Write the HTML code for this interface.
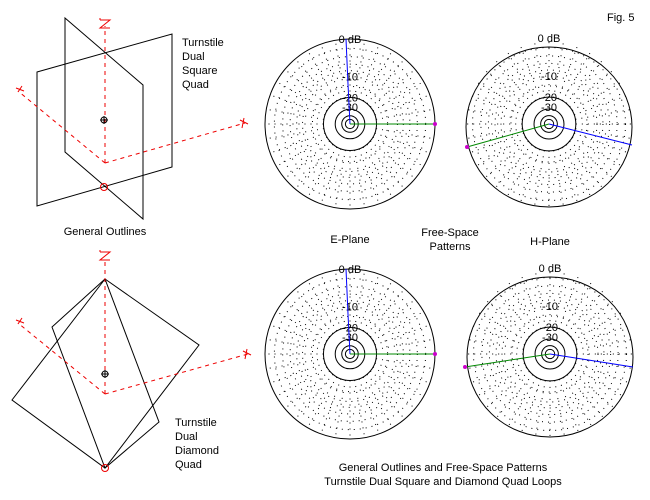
<!DOCTYPE html>
<html><head><meta charset="utf-8"><style>
body{margin:0;background:#fff}
svg{display:block}
text{font-family:"Liberation Sans",sans-serif;font-size:11px;fill:#000}
</style></head><body>
<svg id="s" width="650" height="500" viewBox="0 0 650 500">
<rect width="650" height="500" fill="#fff"/>
<g id="grids"></g>
<g fill="none" stroke="#000" stroke-width="1">
<polygon points="65,18 143,85 143,219 65,152"/>
<polygon points="37,72 172,34 172,167 37,206"/>
</g>
<g fill="none" stroke="#e00" stroke-width="1" stroke-dasharray="4,4">
<line x1="105" y1="163" x2="105" y2="26"/>
<line x1="105" y1="163" x2="18" y2="91"/>
<line x1="105" y1="163" x2="245" y2="123"/>
</g>
<g stroke="#e00" fill="none"><path d="M100,20 h10 l-10,8 h10 M100,20 v-2"/><path d="M240,120 l8,4 M244,118 l-2,10"/><path d="M16,88 l8,3 M18,92 l4,-6"/>
<circle cx="104" cy="187" r="3.5"/></g>
<g stroke="#000" fill="none"><circle cx="104" cy="120" r="3"/><path d="M100,120h8M104,116v8"/></g>
<text x="182" y="46">Turnstile</text><text x="182" y="60">Dual</text><text x="182" y="74">Square</text><text x="182" y="88">Quad</text>
<text x="105" y="235" text-anchor="middle">General Outlines</text>
<g fill="none" stroke="#000" stroke-width="1">
<polygon points="105,279 199,345 105,468 12,400"/>
<polygon points="105,279 52,327 105,468 159,422"/>
</g>
<g fill="none" stroke="#e00" stroke-width="1" stroke-dasharray="4,4">
<line x1="105" y1="394" x2="105" y2="258"/>
<line x1="105" y1="394" x2="18" y2="323"/>
<line x1="105" y1="394" x2="248" y2="354"/>
</g>
<g stroke="#e00" fill="none"><path d="M100,252 h10 l-10,8 h10 M100,252 v-2"/><path d="M243,351 l8,4 M247,349 l-2,10"/><path d="M16,320 l8,3 M18,324 l4,-6"/>
<circle cx="105" cy="468" r="3.5"/></g>
<g stroke="#000" fill="none"><circle cx="105" cy="374" r="3"/><path d="M101,374h8M105,370v8"/></g>
<text x="175" y="426">Turnstile</text><text x="175" y="440">Dual</text><text x="175" y="454">Diamond</text><text x="175" y="468">Quad</text>
<text x="607" y="21">Fig. 5</text>
<text x="350" y="243" text-anchor="middle">E-Plane</text>
<text x="450" y="236" text-anchor="middle">Free-Space</text>
<text x="450" y="250" text-anchor="middle">Patterns</text>
<text x="550" y="245" text-anchor="middle">H-Plane</text>
<text x="443" y="471" text-anchor="middle">General Outlines and Free-Space Patterns</text>
<text x="443" y="485" text-anchor="middle">Turnstile Dual Square and Diamond Quad Loops</text>
<g id="plots"></g>
</svg>
<script>
var NS="http://www.w3.org/2000/svg";
function el(p,n,a,t){var e=document.createElementNS(NS,n);for(var k in a)e.setAttribute(k,a[k]);if(t)e.textContent=t;p.appendChild(e);return e;}
var g=document.getElementById('grids');
function grid(cx,cy,R){
  function r(db){return R*Math.pow(0.89,-db/2);}
  [-2,-4,-6,-8,-10,-14].forEach(function(d){el(g,'circle',{cx:cx,cy:cy,r:r(d),fill:'none',stroke:'#000','stroke-dasharray':'1,5'});});
  [-20,-30,-40,-50].forEach(function(d){el(g,'circle',{cx:cx,cy:cy,r:r(d),fill:'none',stroke:'#000'});});
  for(var a=0;a<360;a+=10){var t=a*Math.PI/180,r1=r(-20),r2=R;
    el(g,'line',{x1:cx+r1*Math.cos(t),y1:cy+r1*Math.sin(t),x2:cx+r2*Math.cos(t),y2:cy+r2*Math.sin(t),stroke:'#000','stroke-dasharray':'1,5'});}
  el(g,'text',{x:cx,y:cy-R+4,'text-anchor':'middle'},'0 dB');
  el(g,'text',{x:cx,y:cy-r(-10)+4,'text-anchor':'middle'},'-10');
  el(g,'text',{x:cx,y:cy-r(-20)+4,'text-anchor':'middle'},'-20');
  el(g,'text',{x:cx,y:cy-r(-30)+2,'text-anchor':'middle'},'-30');
}
var p=document.getElementById('plots');
function ep(cx,cy){grid(cx,cy,85);
  el(p,'circle',{cx:cx,cy:cy,r:85,fill:'none',stroke:'#000'});
  el(p,'polyline',{points:cx+','+cy+' '+(cx-2)+','+(cy-40)+' '+(cx-4)+','+(cy-85),fill:'none',stroke:'#00f'});
  el(p,'line',{x1:cx,y1:cy,x2:cx+85,y2:cy,stroke:'#080'});
  el(p,'circle',{cx:cx+85,cy:cy,r:2,fill:'#c0c'});}
function hp(cx,cy,ex,ey,bx,by){grid(cx,cy,86);
  el(p,'ellipse',{cx:cx,cy:cy+3,rx:83,ry:80,fill:'none',stroke:'#000'});
  el(p,'line',{x1:cx,y1:cy,x2:ex,y2:ey,stroke:'#080'});
  el(p,'line',{x1:cx,y1:cy,x2:bx,y2:by,stroke:'#00f'});
  el(p,'circle',{cx:ex,cy:ey,r:2,fill:'#c0c'});}
ep(350,124);ep(350,354);
hp(549,124,467,147,632,145);
hp(550,354,465,367,633,367);
</script>
</body></html>
